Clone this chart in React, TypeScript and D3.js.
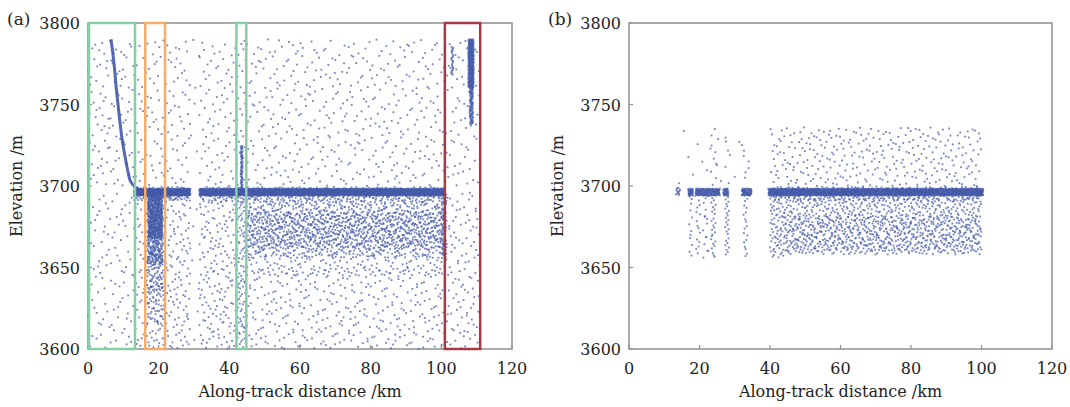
import React from "react";
import * as d3 from "d3";

// ---- data ----
const xTicks = [0, 20, 40, 60, 80, 100, 120];
const yTicks = [3600, 3650, 3700, 3750, 3800];

// density blocks: [x0 km, x1 km, y0 m, y1 m, point count]
const aNoiseUpper: number[][] = [
  [0, 6, 3700, 3790, 50], [6, 13, 3700, 3790, 55], [13, 29, 3700, 3790, 120],
  [29, 31.5, 3702, 3790, 6], [31.5, 42, 3700, 3790, 80], [42, 45, 3700, 3790, 30],
  [45, 101, 3700, 3790, 420], [101, 111, 3700, 3790, 70],
];
const aNoiseLower: number[][] = [
  [0, 13, 3600, 3696, 100], [13, 16.5, 3600, 3694, 45],
  [17, 21, 3668, 3694, 300], [16.8, 21.2, 3652, 3694, 260], [16.6, 21.4, 3635, 3690, 140],
  [16.5, 21.5, 3615, 3660, 70], [16.5, 21.5, 3600, 3640, 45],
  [21.5, 29, 3600, 3694, 120], [29, 31.5, 3600, 3694, 6], [31.5, 42, 3600, 3694, 170],
  [42, 45, 3600, 3694, 110],
  [45, 101, 3645, 3694, 500], [45, 101, 3656, 3690, 600], [45, 101, 3662, 3684, 450],
  [45, 101, 3600, 3650, 330], [100, 101.5, 3655, 3696, 60], [101, 111, 3600, 3696, 110],
];
const aGround: number[][] = [
  [13, 29, 3694, 3698.5, 520], [31.5, 101, 3694, 3698.5, 2000],
  [13, 29, 3691, 3699.5, 120], [31.5, 101, 3690, 3699.5, 350],
];
const aSpikes: number[][] = [
  [43.2, 43.8, 3697, 3725, 60], [107.6, 109.2, 3760, 3790, 260],
  [108, 109, 3738, 3760, 80], [102.8, 103.4, 3768, 3786, 25],
];
const aCurveKm = [6.5, 7, 7.5, 8, 8.5, 9, 9.5, 10, 10.5, 11, 11.5, 12, 13, 14, 15];
const aCurveElev = [3790, 3782, 3772, 3760, 3750, 3740, 3731, 3724, 3718, 3712, 3707, 3703, 3700, 3698, 3697];

const boxesKm: [number, number, string][] = [
  [0, 13.3, "#86cfa5"], [16.2, 21.8, "#f6ad6b"], [42, 44.8, "#86cfa5"], [101, 111, "#a33a44"],
];

const bGround: number[][] = [
  [13.3, 14.5, 3694, 3699, 12], [16.8, 18.2, 3694, 3698.5, 35], [18.8, 25.8, 3694, 3698.5, 160],
  [26.7, 28.2, 3694, 3698.5, 35], [32, 34.8, 3694, 3698.5, 65], [39.5, 100.5, 3694, 3698.5, 1600],
  [40, 100, 3691, 3699.5, 250],
];
const bNoise: number[][] = [
  [40, 100, 3699, 3736, 310], [14, 35, 3700, 3736, 16], [23, 25.5, 3700, 3736, 10],
  [27, 28.5, 3700, 3730, 4], [32, 34, 3700, 3730, 5],
  [17, 18, 3656, 3694, 12], [19, 20.2, 3656, 3694, 14], [21, 22.5, 3656, 3694, 15],
  [23.3, 24.6, 3656, 3694, 25], [27.2, 28.4, 3656, 3694, 25], [32.5, 33.6, 3656, 3694, 18],
  [40, 44, 3656, 3694, 70], [44, 100, 3658, 3693, 800], [44, 100, 3660, 3682, 280],
];

// ---- helpers ----
function halton(i: number, b: number) {
  let f = 1, r = 0;
  while (i > 0) { f /= b; r += f * (i % b); i = Math.floor(i / b); }
  return r;
}
function expand(blocks: number[][], seed: number) {
  const pts: [number, number][] = [];
  let idx = seed;
  for (const [x0, x1, y0, y1, n] of blocks) {
    for (let i = 0; i < n; i++) {
      idx++;
      pts.push([x0 + (x1 - x0) * halton(idx, 2), y0 + (y1 - y0) * halton(idx, 3)]);
    }
  }
  return pts;
}

const W = 1070, H = 407;
const top = 23, bottom = 349;
const FONT = "DejaVu Serif, serif";
const DOT = "#4358a8";

function Panel({ left, right, label, points, boxes, curve }: any) {
  const x = d3.scaleLinear().domain([0, 120]).range([left, right]);
  const y = d3.scaleLinear().domain([3600, 3800]).range([bottom, top]);
  const line = d3.line<number>().x((d, i) => x(aCurveKm[i])).y((d) => y(d)).curve(d3.curveMonotoneY);
  const axisColor = "#8f8f8f";
  return (
    <g>
      <rect x={left} y={top} width={right - left} height={bottom - top} fill="none" stroke={axisColor} strokeWidth={1.5} />
      {xTicks.map((t) => (
        <g key={"x" + t}>
          <line x1={x(t)} x2={x(t)} y1={bottom} y2={bottom - 4} stroke={axisColor} strokeWidth={1.2} />
          <text x={x(t)} y={374} textAnchor="middle" fontFamily={FONT} fontSize={16} fill="#222">{t}</text>
        </g>
      ))}
      {yTicks.map((t) => (
        <g key={"y" + t}>
          <line x1={left} x2={left + 4} y1={y(t)} y2={y(t)} stroke={axisColor} strokeWidth={1.2} />
          <text x={left - 8} y={y(t) + 6} textAnchor="end" fontFamily={FONT} fontSize={16} fill="#222">{t}</text>
        </g>
      ))}
      <text x={(left + right) / 2} y={397} textAnchor="middle" fontFamily={FONT} fontSize={16} fill="#222">Along-track distance /km</text>
      <text transform={`translate(${left - 66},${(top + bottom) / 2}) rotate(-90)`} textAnchor="middle" fontFamily={FONT} fontSize={16} fill="#222">Elevation /m</text>
      <text x={left - 81} y={25} fontFamily={FONT} fontSize={17} fill="#222">{label}</text>
      <g fill={DOT} fillOpacity={0.75}>
        {points.map((p: [number, number], i: number) => (
          <rect key={i} x={x(p[0]) - 0.9} y={y(p[1]) - 0.9} width={1.8} height={1.8} />
        ))}
      </g>
      {curve && (
        <path d={line(aCurveElev) || ""} fill="none" stroke={DOT} strokeWidth={3} strokeOpacity={0.9} />
      )}
      {boxes && boxes.map(([a, b, c]: [number, number, string], i: number) => (
        <rect key={"b" + i} x={x(a) + (a === 0 ? 1 : 0)} y={top} width={x(b) - x(a) - (a === 0 ? 1 : 0)} height={bottom - top} fill="none" stroke={c} strokeWidth={2.5} />
      ))}
    </g>
  );
}

export default function App() {
  const ptsA = [
    ...expand(aNoiseUpper, 11),
    ...expand(aNoiseLower, 3001),
    ...expand(aGround, 9001),
    ...expand(aSpikes, 15001),
  ];
  const ptsB = [...expand(bNoise, 21001), ...expand(bGround, 31001)];
  return (
    <svg width={W} height={H} style={{ position: "absolute", left: 0, top: 0, background: "#fff" }}>
      <rect width={W} height={H} fill="#fff" />
      <Panel left={88} right={512} label="(a)" points={ptsA} boxes={boxesKm} curve />
      <Panel left={629} right={1052} label="(b)" points={ptsB} />
    </svg>
  );
}
